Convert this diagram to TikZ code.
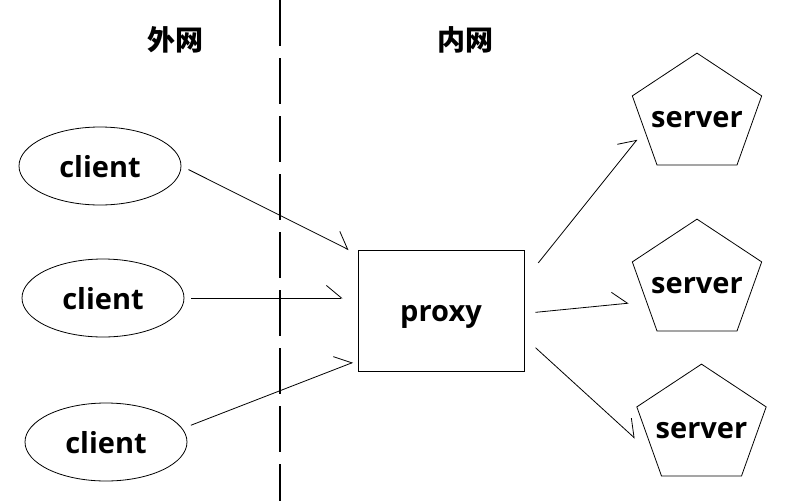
\documentclass[tikz,border=0pt]{standalone}
\usepackage{fontspec}
\setmainfont{Open Sans}
\newfontfamily\cjkfont{Noto Sans CJK SC}
\usetikzlibrary{calc,arrows.meta,shapes.geometric}
\tikzset{
	label font/.style={font=\bfseries\fontsize{29}{34}\selectfont, text depth=0pt},
	client/.style={ellipse, draw, line width=0.8pt, minimum width=162pt, minimum height=78pt, inner sep=0pt, label font, text height=22pt},
	proxybox/.style={rectangle, draw, line width=0.9pt, minimum width=166pt, minimum height=121pt, inner sep=0pt, label font, text height=21pt},
	serverpent/.style={regular polygon, regular polygon sides=5, draw, line width=0.8pt, minimum size=136pt, inner sep=0pt, yscale=0.91, transform shape},
	serverlabel/.style={inner sep=0pt, label font, text height=25pt},
	zone/.style={font=\cjkfont\bfseries\fontsize{28}{32}\selectfont},
	link/.style={line width=0.8pt, -{Straight Barb[left,length=15pt,width=25pt]}},
	divider/.style={line width=1.2pt, dash pattern=on 46pt off 12pt},
}
\begin{document}
\begin{tikzpicture}[x=1pt,y=-1pt]
\useasboundingbox (0,0) rectangle (795,501);
\draw[divider] (280,0) -- (280,501);
\node[zone] (outer) at (175,40) {外网};
\node[zone] (inner) at (465,40) {内网};

\node[client] (c1) at (100,166) {client};
\node[client] (c2) at (103,298) {client};
\node[client] (c3) at (106,442) {client};

\node[proxybox] (proxy) at (441,310.5) {proxy};

\node[serverpent] (s1) at (697,115) {};
\node[serverlabel] (l1) at (s1.center) {server};
\node[serverpent] (s2) at (697,281) {};
\node[serverlabel] (l2) at (s2.center) {server};
\node[serverpent] (s3) at (701.5,426) {};
\node[serverlabel] (l3) at (s3.center) {server};

\draw[link, shorten <=8pt, shorten >=10pt] (c1.east) -- (proxy.146);
\draw[link, shorten <=7pt, shorten >=15pt] (c2.east) -- (c2.east -| proxy.west);
\draw[link, shorten <=9pt, shorten >=5pt] (c3.10) -- (proxy.211);

\draw[link, shorten <=22pt, shorten >=11.5pt] (proxy.20) -- ($(s1.corner 2)!0.5!(s1.corner 3)$);
\draw[link, shorten <=11pt, shorten >=17.5pt] (proxy.-2) -- ($(s2.corner 2)!0.57!(s2.corner 3)$);
\draw[link, shorten <=15pt, shorten >=25.6pt] (proxy.-18) -- ($(s3.corner 2)!0.7!(s3.corner 3)$);
\end{tikzpicture}
\end{document}
